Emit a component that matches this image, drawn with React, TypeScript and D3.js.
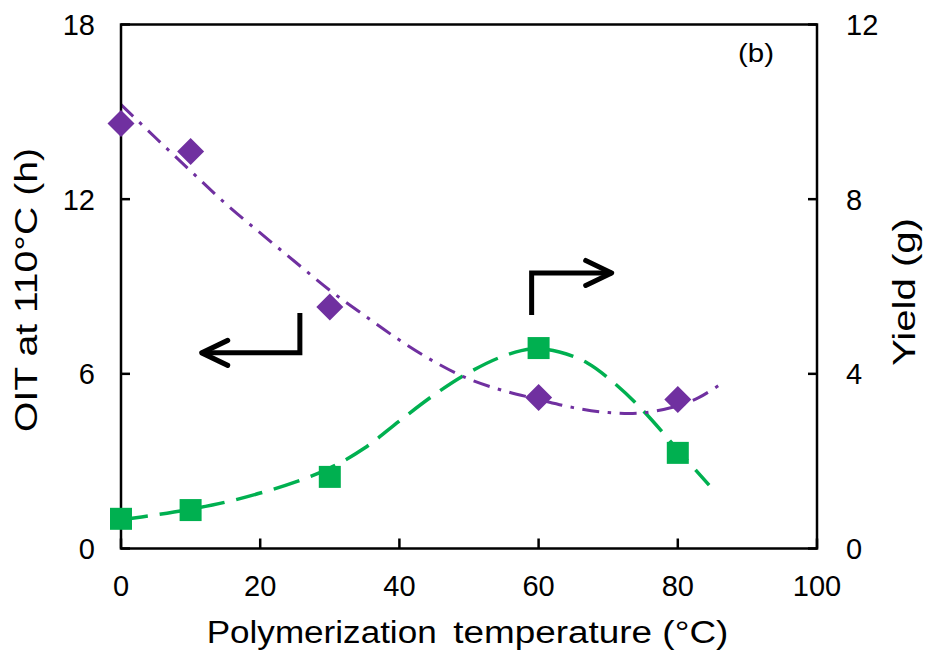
import React from 'react';
import * as d3 from 'd3';

// measured data
const temperatures = [0, 10, 30, 60, 80];
const oitHours = [14.6, 13.64, 8.3, 5.19, 5.12];
const yieldGrams = [0.68, 0.88, 1.64, 4.59, 2.19];

// trend curves
const oitTrendT = [0, 5, 10, 15, 20, 25, 30, 35, 40, 45, 50, 55, 60, 65, 70, 75, 80, 83, 86.3];
const oitTrendV = [15.25, 14.1, 12.97, 11.85, 10.84, 9.85, 8.87, 8.0, 7.16, 6.42, 5.82, 5.42, 5.12, 4.84, 4.67, 4.66, 4.9, 5.18, 5.67];
const yieldTrendT = [0, 5, 10, 15, 20, 25, 30, 35, 40, 45, 50, 55, 59, 63, 67, 71, 75, 80, 84.5];
const yieldTrendV = [0.66, 0.77, 0.9, 1.06, 1.27, 1.52, 1.84, 2.3, 2.92, 3.52, 4.03, 4.41, 4.57, 4.5, 4.25, 3.77, 3.16, 2.26, 1.45];

const xTicks = [0, 20, 40, 60, 80, 100];
const leftTicks = [0, 6, 12, 18];
const rightTicks = [0, 4, 8, 12];

const PURPLE = '#7030A0';
const GREEN = '#00B050';
const FONT = '"Liberation Sans", Arial, sans-serif';

export default function App() {
  const W = 933, H = 659;
  const left = 121, right = 817, top = 24.5, bottom = 548.5;
  const x = d3.scaleLinear().domain([0, 100]).range([left, right]);
  const yL = d3.scaleLinear().domain([0, 18]).range([bottom, top]);
  const yR = d3.scaleLinear().domain([0, 12]).range([bottom, top]);

  const curve = d3.curveCatmullRom.alpha(0.5);
  const lineO = d3.line<number>().curve(curve).x((t) => x(oitTrendT[t])).y((t) => yL(oitTrendV[t]))(d3.range(oitTrendT.length)) || '';
  const lineY = d3.line<number>().curve(curve).x((t) => x(yieldTrendT[t])).y((t) => yR(yieldTrendV[t]))(d3.range(yieldTrendT.length)) || '';

  // annotation arrows (data coords)
  const rA = { cx: x(59), y0: yR(5.35), y1: yR(6.31), tip: x(70.5) };
  const lA = { cx: x(25.7), y0: yL(8.09), y1: yL(6.72), tip: x(11.6) };
  const headL = 26, headW = 12.5;

  const dSize = 13.5;
  const sSize = 11;

  return (
    <svg width={W} height={H} style={{ position: 'absolute', left: 0, top: 0, background: '#fff' }}
      fontFamily={FONT}>
      <rect x={0} y={0} width={W} height={H} fill="#fff" />
      {/* trend lines */}
      <path d={lineY} fill="none" stroke={GREEN} strokeWidth={3.5} strokeDasharray="27 12" />
      <path d={lineO} fill="none" stroke={PURPLE} strokeWidth={3} strokeDasharray="17 8.5 3.5 8.5" />

      {/* axes box */}
      <rect x={left} y={top} width={right - left} height={bottom - top} fill="none" stroke="#000" strokeWidth={2.5} />
      {xTicks.map((t) => (
        <g key={'x' + t}>
          <line x1={x(t)} x2={x(t)} y1={bottom} y2={bottom - 10} stroke="#000" strokeWidth={2.5} />
          <text x={x(t)} y={596} fontSize={29} textAnchor="middle">{t}</text>
        </g>
      ))}
      {leftTicks.map((t) => (
        <g key={'l' + t}>
          <line x1={left} x2={left + 9} y1={yL(t)} y2={yL(t)} stroke="#000" strokeWidth={2.5} />
          <text x={95} y={yL(t) + 10.5} fontSize={29} textAnchor="end">{t}</text>
        </g>
      ))}
      {rightTicks.map((t) => (
        <g key={'r' + t}>
          <line x1={right} x2={right - 9} y1={yR(t)} y2={yR(t)} stroke="#000" strokeWidth={2.5} />
          <text x={846} y={yR(t) + 10.5} fontSize={29} textAnchor="start">{t}</text>
        </g>
      ))}

      {/* markers */}
      {temperatures.map((t, i) => (
        <rect key={'s' + i} x={x(t) - sSize} y={yR(yieldGrams[i]) - sSize} width={sSize * 2} height={sSize * 2} fill={GREEN} />
      ))}
      {temperatures.map((t, i) => {
        const cx = x(t), cy = yL(oitHours[i]);
        return (
          <path key={'d' + i} d={`M${cx},${cy - dSize}L${cx + dSize},${cy}L${cx},${cy + dSize}L${cx - dSize},${cy}Z`} fill={PURPLE} />
        );
      })}

      {/* arrows */}
      <g stroke="#000" strokeWidth={5} fill="none">
        <path d={`M${rA.cx},${rA.y0}V${rA.y1}H${rA.tip}`} />
        <path d={`M${rA.tip - headL},${rA.y1 - headW}L${rA.tip},${rA.y1}L${rA.tip - headL},${rA.y1 + headW}`} strokeLinecap="round" strokeLinejoin="round" />
        <path d={`M${lA.cx},${lA.y0}V${lA.y1}H${lA.tip}`} />
        <path d={`M${lA.tip + headL},${lA.y1 - headW}L${lA.tip},${lA.y1}L${lA.tip + headL},${lA.y1 + headW}`} strokeLinecap="round" strokeLinejoin="round" />
      </g>

      {/* labels */}
      <text x={738} y={61.5} fontSize={26} textLength={36} lengthAdjust="spacingAndGlyphs">(b)</text>
      <text x={206.7} y={643} fontSize={31} textLength={230} lengthAdjust="spacingAndGlyphs">Polymerization</text>
      <text x={453.3} y={643} fontSize={31} textLength={275} lengthAdjust="spacingAndGlyphs">temperature (°C)</text>
      <text transform={`translate(37,290) rotate(-90)`} fontSize={31} textAnchor="middle" textLength={284} lengthAdjust="spacingAndGlyphs">OIT at 110°C (h)</text>
      <text transform={`translate(915,292) rotate(-90)`} fontSize={31} textAnchor="middle" textLength={148} lengthAdjust="spacingAndGlyphs">Yield (g)</text>
    </svg>
  );
}
